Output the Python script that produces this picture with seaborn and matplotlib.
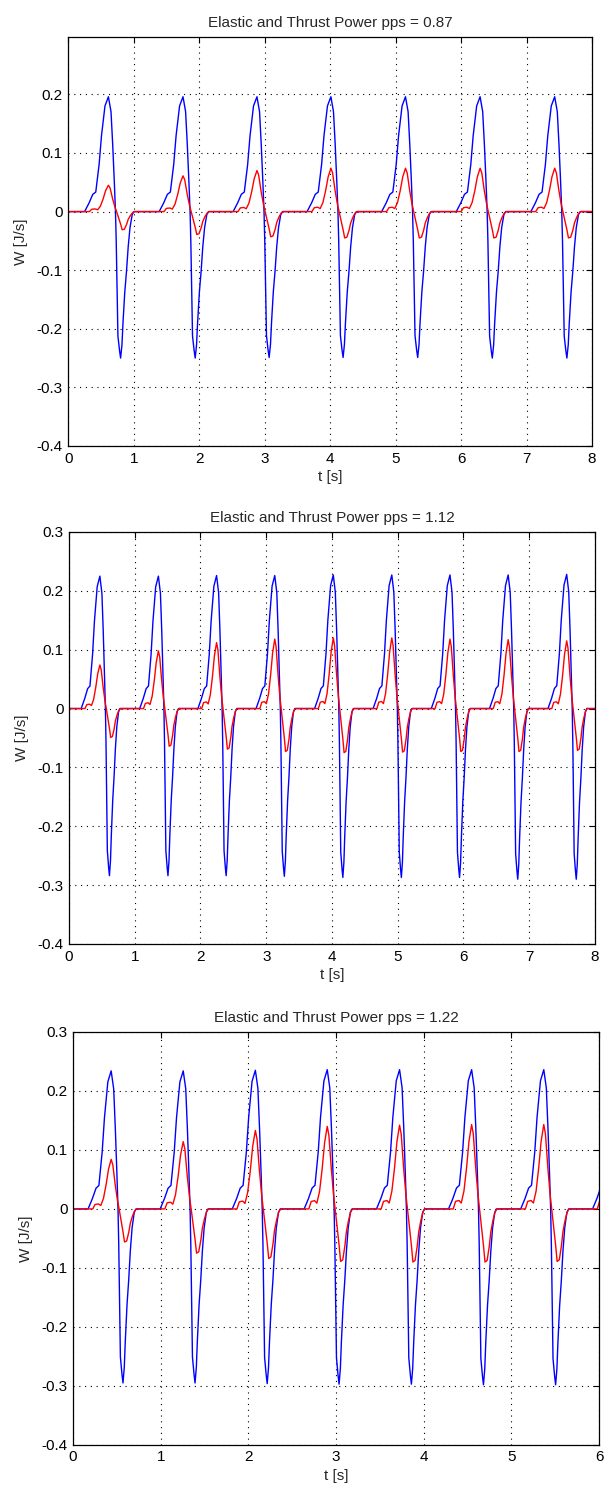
import numpy as np
import pandas as pd
import matplotlib
matplotlib.use("Agg")
import matplotlib.pyplot as plt
import seaborn as sns

# one cycle as read off the plots: time as a fraction of the period, measured from the blue peak,
# value normalised to the peak (positive part) or to the trough (negative part)
BLUE_PHASE = [-0.32, -0.26, -0.21, -0.17, -0.125, -0.093, -0.046, 0.0, 0.035, 0.058, 0.08, 0.095,
              0.105, 0.115, 0.128, 0.15, 0.164, 0.182, 0.196, 0.22, 0.243, 0.266, 0.29, 0.32, 0.345]
BLUE_SHAPE = [0, 0.075, 0.15, 0.17, 0.41, 0.66, 0.92, 1.0, 0.87, 0.58, 0.25, 0,
              -0.2, -0.5, -0.85, -0.95, -1.0, -0.91, -0.76, -0.55, -0.41, -0.24, -0.11, -0.02, 0]
RED_PHASE = [-0.255, -0.223, -0.176, -0.144, -0.107, -0.07, -0.037, 0.0, 0.023, 0.056, 0.088, 0.11,
             0.14, 0.165, 0.185, 0.215, 0.245, 0.265, 0.295, 0.325, 0.35]
RED_SHAPE = [0, 0.09, 0.1, 0.07, 0.21, 0.49, 0.8, 1.0, 0.89, 0.49, 0.17, 0,
             -0.38, -0.7, -1.0, -0.97, -0.7, -0.44, -0.22, -0.06, 0]

# pps = 0.87
p087_period = 1.137
p087_peaks = [0.61, 1.75, 2.88, 4.01, 5.15, 6.29, 7.43]
p087_blue_max = [0.196, 0.196, 0.196, 0.196, 0.196, 0.196, 0.196]
p087_blue_min = [-0.25, -0.25, -0.249, -0.249, -0.249, -0.25, -0.25]
p087_red_max = [0.045, 0.061, 0.07, 0.074, 0.074, 0.074, 0.074]
p087_red_min = [-0.031, -0.039, -0.043, -0.045, -0.045, -0.045, -0.045]

# pps = 1.12
p112_period = 0.8875
p112_peaks = [0.47, 1.36, 2.245, 3.13, 4.02, 4.91, 5.795, 6.68, 7.57]
p112_blue_max = [0.225, 0.225, 0.226, 0.226, 0.227, 0.227, 0.227, 0.227, 0.228]
p112_blue_min = [-0.284, -0.284, -0.284, -0.285, -0.287, -0.287, -0.287, -0.29, -0.29]
p112_red_max = [0.074, 0.098, 0.112, 0.118, 0.12, 0.12, 0.118, 0.117, 0.115]
p112_red_min = [-0.049, -0.064, -0.069, -0.073, -0.075, -0.074, -0.073, -0.073, -0.071]

# pps = 1.22
p122_period = 0.8225
p122_peaks = [0.435, 1.257, 2.08, 2.90, 3.725, 4.547, 5.37, 6.19]
p122_blue_max = [0.234, 0.234, 0.235, 0.236, 0.236, 0.236, 0.236, 0.236]
p122_blue_min = [-0.295, -0.295, -0.296, -0.297, -0.297, -0.298, -0.298, -0.298]
p122_red_max = [0.084, 0.114, 0.133, 0.14, 0.142, 0.143, 0.143, 0.143]
p122_red_min = [-0.056, -0.075, -0.084, -0.089, -0.09, -0.09, -0.089, -0.089]

X_TICKS_8 = [0, 1, 2, 3, 4, 5, 6, 7, 8]
X_TICKS_6 = [0, 1, 2, 3, 4, 5, 6]
Y_TICKS_A = [-0.4, -0.3, -0.2, -0.1, 0, 0.1, 0.2]
Y_LABELS_A = ['-0.4', '-0.3', '-0.2', '-0.1', '0', '0.1', '0.2']
Y_TICKS_B = [-0.4, -0.3, -0.2, -0.1, 0, 0.1, 0.2, 0.3]
Y_LABELS_B = ['-0.4', '-0.3', '-0.2', '-0.1', '0', '0.1', '0.2', '0.3']


def trace(peaks, period, phase, shape, amax, amin, tmax):
    t = [0.0]
    w = [0.0]
    for pk, hi, lo in zip(peaks, amax, amin):
        for ph, s in zip(phase, shape):
            t.append(pk + ph * period)
            w.append(s * hi if s >= 0 else -s * lo)
    t.append(max(tmax, t[-1]))
    w.append(0.0)
    return pd.DataFrame({'t': t, 'W': w})


sns.set_style("white")
plt.rcParams['font.family'] = ['Liberation Sans', 'DejaVu Sans']
plt.rcParams['axes.unicode_minus'] = False
plt.rcParams['font.size'] = 11

fig = plt.figure(figsize=(6.05, 14.91), dpi=100)

panels = [
    ([0.1132, 0.7009, 0.8653, 0.2743], "0.87", p087_peaks, p087_period,
     p087_blue_max, p087_blue_min, p087_red_max, p087_red_min, 8, X_TICKS_8, 0.298, Y_TICKS_A, Y_LABELS_A),
    ([0.1140, 0.3669, 0.8694, 0.2763], "1.12", p112_peaks, p112_period,
     p112_blue_max, p112_blue_min, p112_red_max, p112_red_min, 8, X_TICKS_8, 0.3, Y_TICKS_B, Y_LABELS_B),
    ([0.1207, 0.0309, 0.8694, 0.2770], "1.22", p122_peaks, p122_period,
     p122_blue_max, p122_blue_min, p122_red_max, p122_red_min, 6, X_TICKS_6, 0.3, Y_TICKS_B, Y_LABELS_B),
]

for (rect, pps, peaks, period, bmax, bmin, rmax, rmin, xmax, xt, ytop, yt, ytl) in panels:
    ax = fig.add_axes(rect)
    blue = trace(peaks, period, BLUE_PHASE, BLUE_SHAPE, bmax, bmin, xmax)
    red = trace(peaks, period, RED_PHASE, RED_SHAPE, rmax, rmin, xmax)
    sns.lineplot(data=blue, x='t', y='W', color=(0, 0, 1), linewidth=1.0,
                 sort=False, estimator=None, ax=ax)
    sns.lineplot(data=red, x='t', y='W', color=(1, 0, 0), linewidth=1.0,
                 sort=False, estimator=None, ax=ax)
    ax.set_xlim(0, xmax)
    ax.set_ylim(-0.4, ytop)
    ax.set_xticks(xt)
    ax.set_xticklabels([str(v) for v in xt])
    ax.set_yticks(yt)
    ax.set_yticklabels(ytl)
    ax.grid(True, color='k', linewidth=0.8, linestyle=(0, (1, 4.2)))
    ax.tick_params(direction='in', length=4, width=0.8, top=True, right=True,
                   labelsize=11, pad=4, colors='k')
    for sp in ax.spines.values():
        sp.set_color('k')
        sp.set_linewidth(0.9)
    ax.set_title("Elastic and Thrust Power pps = " + pps, fontsize=11, pad=7)
    ax.set_xlabel("t [s]", fontsize=11, labelpad=3)
    ax.set_ylabel("W [J/s]", fontsize=11, labelpad=6)

fig.savefig("out.png", dpi=100)
